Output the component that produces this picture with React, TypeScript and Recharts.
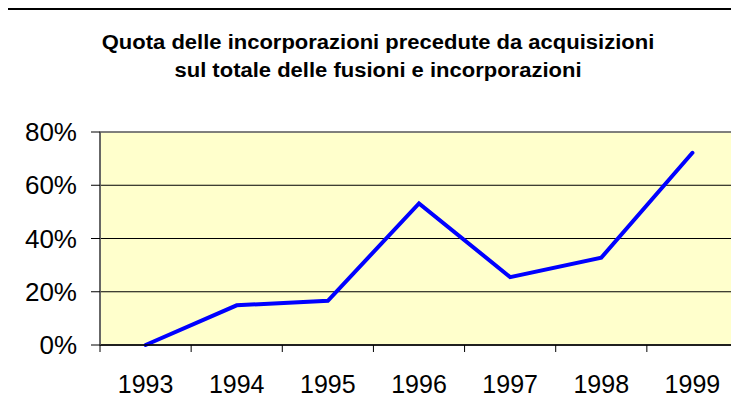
import React from "react";
import {
  LineChart,
  Line,
  XAxis,
  YAxis,
  CartesianGrid,
  ReferenceArea,
} from "recharts";

const years = ["1993", "1994", "1995", "1996", "1997", "1998", "1999"];
const shares = [0.0, 0.149, 0.166, 0.532, 0.255, 0.328, 0.722];
const yTicks = [0, 0.2, 0.4, 0.6, 0.8];
const titleLines = [
  "Quota delle incorporazioni precedute da acquisizioni",
  "sul totale delle fusioni e incorporazioni",
];

const data = years.map((y, i) => ({ pos: i + 0.5, year: y, share: shares[i] }));
const boundaryTicks = years.map((_, i) => i).concat([years.length]);
const labelTicks = years.map((_, i) => i + 0.5);

const FONT = "'Liberation Sans', Arial, sans-serif";

export default function App() {
  return (
    <div
      style={{
        position: "relative",
        width: 739,
        height: 402,
        margin: "-8px 0 0 -8px",
        overflow: "hidden",
        background: "#fff",
        fontFamily: FONT,
      }}
    >
      <div
        style={{
          position: "absolute",
          left: 5,
          top: 8,
          width: 800,
          height: 500,
          borderLeft: "2px solid #000",
          borderTop: "2px solid #000",
        }}
      />
      <div
        style={{
          position: "absolute",
          left: 78,
          top: 28,
          width: 600,
          textAlign: "center",
          fontWeight: "bold",
          fontSize: 20,
          lineHeight: "28px",
          color: "#000",
          transform: "scaleX(1.1)",
          transformOrigin: "50% 50%",
          whiteSpace: "nowrap",
        }}
      >
        {titleLines.map((t) => (
          <div key={t}>{t}</div>
        ))}
      </div>
      <div style={{ position: "absolute", left: 0, top: 0 }}>
        <LineChart
          width={739}
          height={402}
          data={data}
          margin={{ top: 132, right: 1, left: 0, bottom: 0 }}
        >
          <CartesianGrid
            vertical={false}
            stroke="#000"
            strokeWidth={1}
            fill="#FFFFCC"
            fillOpacity={1}
          />
          <ReferenceArea
            xAxisId="a_ticks"
            x1={0}
            x2={years.length}
            y1={0}
            y2={0.8}
            fill="none"
            stroke="#808080"
            strokeWidth={1.5}
            ifOverflow="visible"
          />
          <XAxis
            xAxisId="a_ticks"
            dataKey="pos"
            type="number"
            domain={[0, years.length]}
            ticks={boundaryTicks}
            tickFormatter={() => ""}
            height={8}
            tickSize={7}
            stroke="#000"
            axisLine={{ stroke: "#000", strokeWidth: 1.5 }}
            tickLine={{ stroke: "#000" }}
            allowDataOverflow
          />
          <XAxis
            xAxisId="b_labels"
            dataKey="pos"
            type="number"
            domain={[0, years.length]}
            ticks={labelTicks}
            tickFormatter={(v: number) => years[Math.round(v - 0.5)]}
            height={49}
            axisLine={false}
            tickLine={false}
            tickSize={0}
            tickMargin={22}
            tick={{ fill: "#000", fontSize: 25, fontFamily: FONT }}
          />
          <YAxis
            type="number"
            domain={[0, 0.8]}
            ticks={yTicks}
            width={100}
            tickSize={9}
            tickMargin={14}
            axisLine={{ stroke: "#555", strokeWidth: 1.5 }}
            tickLine={{ stroke: "#000" }}
            tickFormatter={(v: number) => `${Math.round(v * 100)}%`}
            tick={{ fill: "#000", fontSize: 26, fontFamily: FONT }}
          />
          <Line
            xAxisId="a_ticks"
            type="linear"
            dataKey="share"
            stroke="#0000FF"
            strokeWidth={4}
            strokeLinecap="round"
            dot={false}
            activeDot={false}
            isAnimationActive={false}
          />
        </LineChart>
      </div>
    </div>
  );
}
